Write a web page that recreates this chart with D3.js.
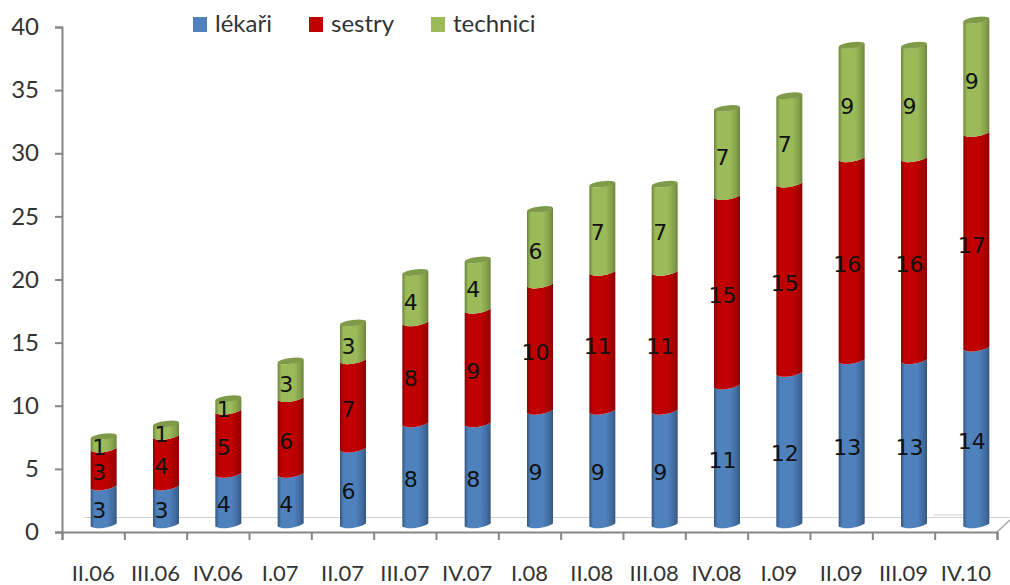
<!DOCTYPE html>
<html>
<head>
<meta charset="utf-8">
<script src="https://cdn.jsdelivr.net/npm/d3@7"></script>
<style>
  html, body { margin: 0; padding: 0; background: #fff; }
  svg { display: block; }
</style>
</head>
<body>
<div id="container"></div>
<script>
    const categories = ["II.06", "III.06", "IV.06", "I.07", "II.07", "III.07", "IV.07", "I.08",
        "II.08", "III.08", "IV.08", "I.09", "II.09", "III.09", "IV.10"];
    const lekari = [3, 3, 4, 4, 6, 8, 8, 9, 9, 9, 11, 12, 13, 13, 14];
    const sestry = [3, 4, 5, 6, 7, 8, 9, 10, 11, 11, 15, 15, 16, 16, 17];
    const technici = [1, 1, 1, 3, 3, 4, 4, 6, 7, 7, 7, 7, 9, 9, 9];
    const seriesNames = ["lékaři", "sestry", "technici"];
    const seriesColors = ["#4f81bd", "#c00000", "#9bbb59"];
    const seriesDark = ["#33567f", "#8a0000", "#6d853c"];
    const yTicks = [0, 5, 10, 15, 20, 25, 30, 35, 40];

    const width = 1010;
    const height = 585;

    // plot area
    const axisLeft = 62;
    const axisRight = 997;
    const axisBottom = 532;
    const axisTop = 27;
    // the 3D depth pushes the bars up and to the right of the axes
    const depthX = 10.5;
    const depthY = 7;
    const barR = 13;
    const capR = 3;
    const tilt = -7;
    const slant = barR * Math.sin(-tilt * Math.PI / 180);

    const svg = d3.create("svg")
        .attr("width", width)
        .attr("height", height);

    const x = d3.scaleBand().domain(categories).range([axisLeft, axisRight]);
    const xEdges = d3.scaleLinear().domain([0, categories.length]).range([axisLeft, axisRight]);
    const y = d3.scaleLinear().domain([0, 40]).range([axisBottom, axisTop]);

    const table = categories.map((c, i) => ({
        cat: c, [seriesNames[0]]: lekari[i], [seriesNames[1]]: sestry[i], [seriesNames[2]]: technici[i]
    }));
    const stacked = d3.stack().keys(seriesNames)(table);

    // gradients for the cylinders
    const defs = svg.append("defs");
    seriesNames.forEach((name, i) => {
        const g = defs.append("linearGradient").attr("id", "grad" + i);
        g.append("stop").attr("offset", "0%").attr("stop-color", seriesDark[i]);
        g.append("stop").attr("offset", "14%").attr("stop-color", seriesColors[i]);
        g.append("stop").attr("offset", "62%").attr("stop-color", seriesColors[i]);
        g.append("stop").attr("offset", "88%").attr("stop-color", d3.interpolateRgb(seriesColors[i], seriesDark[i])(0.55));
        g.append("stop").attr("offset", "100%").attr("stop-color", seriesDark[i]);
    });

    // floor of the 3D box
    const floor = svg.append("g").attr("fill", "none").attr("stroke", "#d0d0d0").attr("stroke-width", 1.2);
    floor.append("line")
        .attr("x1", axisLeft + 22).attr("y1", axisBottom - 14.5)
        .attr("x2", axisRight + 13).attr("y2", axisBottom - 14.5);
    floor.append("line")
        .attr("x1", 934).attr("y1", axisBottom - 17)
        .attr("x2", 990).attr("y2", axisBottom - 17);
    svg.append("line")
        .attr("x1", axisRight).attr("y1", axisBottom)
        .attr("x2", axisRight + 13).attr("y2", axisBottom - 12)
        .attr("stroke", "#a6a6a6").attr("stroke-width", 1.5);

    // front edge of a cylinder slice, left to right or right to left
    const bow = capR * 1.3;
    const edge = (cx, yy, forward) => forward
        ? `C${cx - barR + 6},${yy + slant + bow} ${cx + barR - 6},${yy - slant + bow} ${cx + barR},${yy - slant}`
        : `C${cx + barR - 6},${yy - slant + bow} ${cx - barR + 6},${yy + slant + bow} ${cx - barR},${yy + slant}`;

    // bars
    const bars = svg.append("g");
    stacked.forEach((layer, s) => {
        bars.append("g")
            .selectAll("path")
            .data(layer)
            .join("path")
            .attr("fill", `url(#grad${s})`)
            .attr("d", d => {
                const cx = x(d.data.cat) + x.bandwidth() / 2 + depthX;
                const y0 = y(d[0]) - depthY;
                const y1 = y(d[1]) - depthY;
                return `M${cx - barR},${y0 + slant}` + edge(cx, y0, true) +
                    `L${cx + barR},${y1 - slant}` + edge(cx, y1, false) + "Z";
            });
    });

    // top caps of the cylinders
    bars.append("g")
        .selectAll("ellipse")
        .data(stacked[2])
        .join("ellipse")
        .attr("transform", d => `translate(${x(d.data.cat) + x.bandwidth() / 2 + depthX},${y(d[1]) - depthY}) rotate(${tilt})`)
        .attr("rx", barR)
        .attr("ry", capR)
        .attr("fill", "#7f9a48");

    // data labels
    stacked.forEach(layer => {
        svg.append("g")
            .selectAll("text")
            .data(layer)
            .join("text")
            .attr("x", d => x(d.data.cat) + x.bandwidth() / 2 + depthX - 4.5)
            .attr("y", d => y((d[0] + d[1]) / 2) - depthY + 12)
            .attr("text-anchor", "middle")
            .attr("font-family", "DejaVu Sans")
            .attr("font-size", 22)
            .attr("fill", "#111")
            .text(d => d[1] - d[0]);
    });

    // axes
    const yAxis = svg.append("g")
        .attr("transform", `translate(${axisLeft},0)`)
        .call(d3.axisLeft(y).tickValues(yTicks).tickSize(7).tickPadding(16));
    const xAxis = svg.append("g")
        .attr("transform", `translate(0,${axisBottom})`)
        .call(d3.axisBottom(xEdges).tickValues(d3.range(categories.length + 1)).tickSize(8).tickFormat(""));
    const xLabels = svg.append("g")
        .attr("transform", `translate(0,${axisBottom})`)
        .call(d3.axisBottom(x).tickSize(0).tickPadding(33));
    xLabels.select(".domain").remove();

    [yAxis, xAxis].forEach(a => {
        a.selectAll(".domain").attr("stroke", "#868686").attr("stroke-width", 2);
        a.selectAll(".tick line").attr("stroke", "#868686").attr("stroke-width", 2);
    });
    yAxis.selectAll("text")
        .attr("font-family", "Lato")
        .attr("font-size", 24)
        .attr("fill", "#333");
    xLabels.selectAll("text")
        .attr("font-family", "Lato")
        .attr("font-size", 22)
        .attr("fill", "#333");

    // legend
    const legendX = [193, 309, 431];
    const legend = svg.append("g")
        .selectAll("g")
        .data(seriesNames)
        .join("g")
        .attr("transform", (d, i) => `translate(${legendX[i]},17)`);
    legend.append("rect")
        .attr("width", 14)
        .attr("height", 15)
        .attr("fill", (d, i) => seriesColors[i]);
    legend.append("text")
        .attr("x", 22)
        .attr("y", 15)
        .attr("font-family", "Lato")
        .attr("font-size", 24)
        .attr("fill", "#333")
        .text(d => d);

    document.getElementById("container").append(svg.node());
</script>
</body>
</html>
